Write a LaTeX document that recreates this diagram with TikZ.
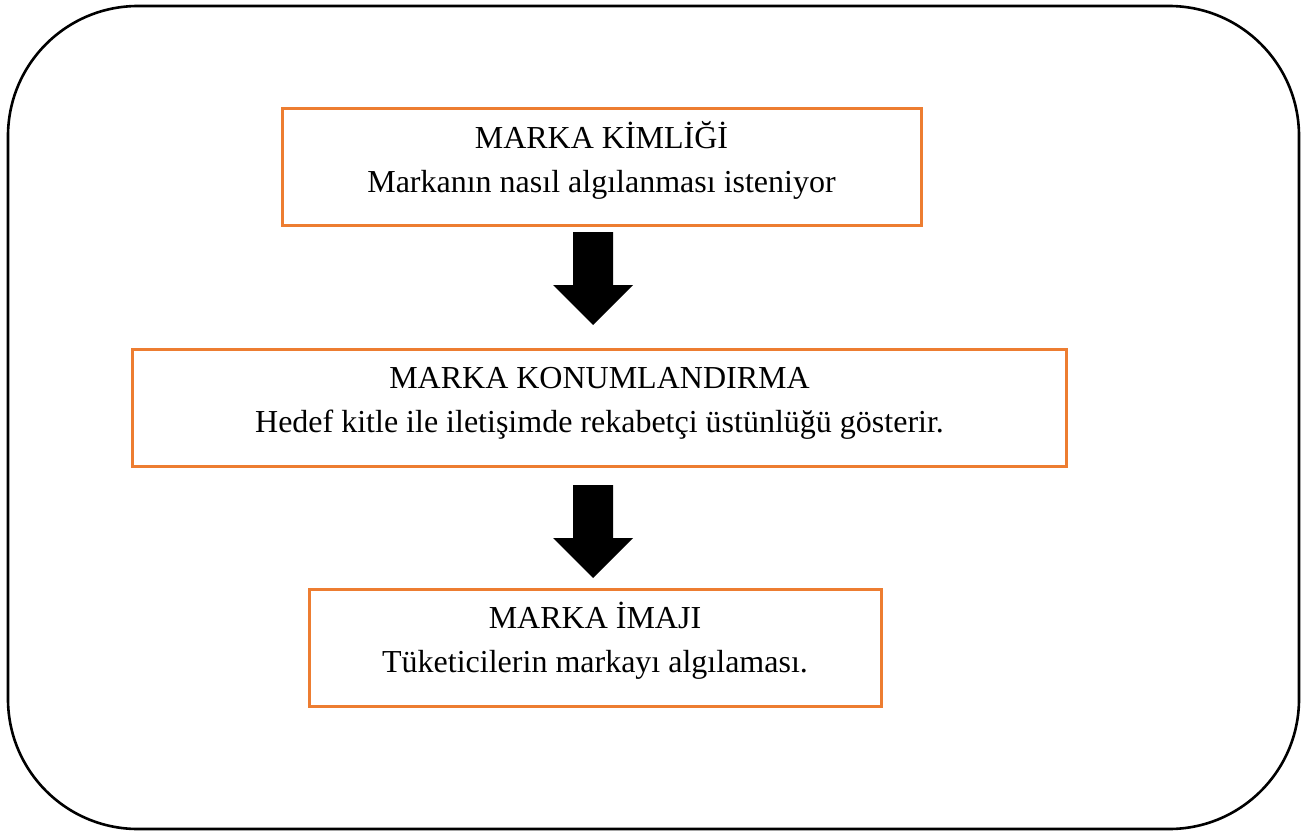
\documentclass[tikz,border=0pt]{standalone}
\usepackage{fontspec}
\setmainfont{Liberation Serif}
\definecolor{orangeline}{HTML}{ED7D31}
\begin{document}
\begin{tikzpicture}[x=1bp,y=-1bp,
  outer/.style={draw=black, line width=2.6bp, rounded corners=130bp},
  obox/.style={draw=orangeline, line width=3bp, inner sep=0pt, minimum height=117bp},
  txt/.style={anchor=base, inner sep=0pt, font=\fontsize{32bp}{38bp}\selectfont},
  blockarrow/.style={fill=black, draw=none}]
\useasboundingbox (0,0) rectangle (1310,832);
\draw[outer] (8,6) rectangle (1299,829);

\node[obox, minimum width=639bp] (b1) at (601.5,166.5) {};
\node[txt] (t1a) at (601.5,148) {MARKA KİMLİĞİ};
\node[txt] (t1b) at (601.5,192) {Markanın nasıl algılanması isteniyor};

\node[obox, minimum width=933bp] (b2) at (599.5,407.5) {};
\node[txt] (t2a) at (599.5,388) {MARKA KONUMLANDIRMA};
\node[txt] (t2b) at (599.5,432) {Hedef kitle ile iletişimde rekabetçi üstünlüğü gösterir.};

\node[obox, minimum width=572bp] (b3) at (595,647.5) {};
\node[txt] (t3a) at (595,628) {MARKA İMAJI};
\node[txt] (t3b) at (595,672) {Tüketicilerin markayı algılaması.};

\coordinate (a1) at (593,232);
\coordinate (a2) at (593,485);
\fill[blockarrow] (a1) ++(-20,0) -- ++(40,0) -- ++(0,53) -- ++(20,0) -- ++(-40,40) -- ++(-40,-40) -- ++(20,0) -- cycle;
\fill[blockarrow] (a2) ++(-20,0) -- ++(40,0) -- ++(0,53) -- ++(20,0) -- ++(-40,40) -- ++(-40,-40) -- ++(20,0) -- cycle;
\end{tikzpicture}
\end{document}
